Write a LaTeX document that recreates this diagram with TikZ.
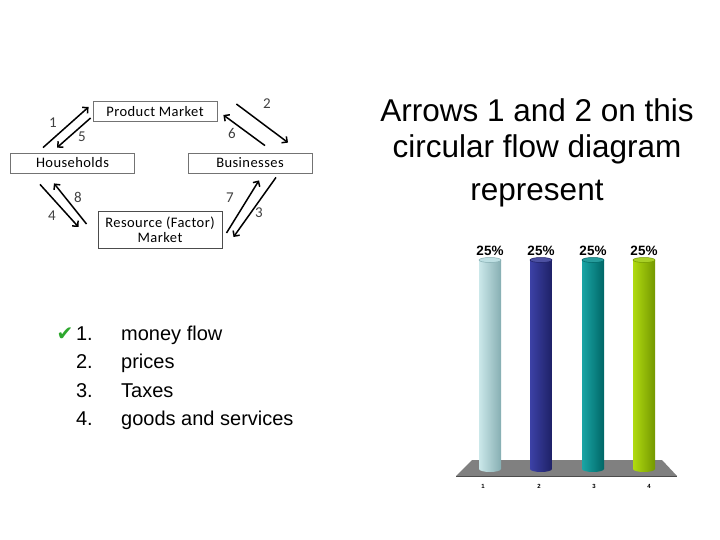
\documentclass[tikz,border=0pt]{standalone}
\usepackage{fontspec}
\setmainfont{Liberation Sans}
\newfontfamily\calfont[LetterSpace=3]{Carlito}
\newfontfamily\symfont{DejaVu Sans}
\usepackage{xcolor}
\usetikzlibrary{arrows.meta}
\definecolor{barAl}{HTML}{CBE8EA}\definecolor{barAm}{HTML}{B2D9DD}\definecolor{barAr}{HTML}{86AEB2}
\definecolor{barBl}{HTML}{3C41A6}\definecolor{barBm}{HTML}{2E3292}\definecolor{barBr}{HTML}{1E2166}
\definecolor{barCl}{HTML}{1AA5A5}\definecolor{barCm}{HTML}{008B8B}\definecolor{barCr}{HTML}{006666}
\definecolor{barDl}{HTML}{B0DA10}\definecolor{barDm}{HTML}{99C800}\definecolor{barDr}{HTML}{749800}
\definecolor{tick}{HTML}{2EA82E}

\begin{document}
\begin{tikzpicture}[x=1pt,y=-1pt,
  box/.style={draw=black!55,line width=0.8pt,font=\calfont\fontsize{14.5}{15}\selectfont,
    minimum width=124pt,minimum height=20pt,inner sep=1pt,align=center},
  flow/.style={line width=1.5pt,-{Straight Barb[length=4pt,width=8pt]}},
  num/.style={font=\calfont\fontsize{15}{15}\selectfont,text=black!75},
  title/.style={font=\fontsize{31.5}{31.5}\selectfont},
  item/.style={font=\fontsize{20}{20}\selectfont},
  pct/.style={font=\bfseries\fontsize{13.5}{14}\selectfont},
  axis/.style={font=\bfseries\fontsize{6}{6}\selectfont}]
\useasboundingbox (0,0) rectangle (720,540);

% circular flow
\node[box] (pm) at (155,111.5) {Product Market};
\node[box] (hh) at (72.5,163) {Households};
\node[box] (bus) at (250,163) {Businesses};
\node[box,minimum height=36pt,line width=1pt,draw=black!70] (rfm) at (160,230) {Resource (Factor)\\Market};
\draw[flow] ([xshift=-29.5pt,yshift=5pt]hh.north) -- ([xshift=-4pt,yshift=4.5pt]pm.west);
\draw[flow] ([xshift=-2pt,yshift=-6.5pt]pm.west) -- ([xshift=-15.5pt,yshift=5pt]hh.north);
\draw[flow] ([xshift=19pt,yshift=7.5pt]pm.east) -- ([xshift=38pt,yshift=10pt]bus.north);
\draw[flow] ([xshift=15pt,yshift=7pt]bus.north) -- ([xshift=6pt,yshift=-3.5pt]pm.east);
\draw[flow] ([xshift=-32.5pt,yshift=-11pt]hh.south) -- ([xshift=-19pt,yshift=3pt]rfm.west);
\draw[flow] ([xshift=-11pt,yshift=6pt]rfm.west) -- ([xshift=-18.5pt,yshift=-10pt]hh.south);
\draw[flow] ([xshift=4pt,yshift=-3pt]rfm.east) -- ([xshift=9pt,yshift=-7pt]bus.south);
\draw[flow] ([xshift=26pt,yshift=-4pt]bus.south) -- ([xshift=11pt,yshift=-7pt]rfm.east);
\foreach \n/\x/\y in {1/53/123,5/82/137,2/267/104,6/232/133,4/52/216,8/78/197,7/230/198,3/259/213}
  \node[num] (l\n) at (\x,\y) {\n};

% question
\node[title,anchor=base] (q1) at (537,122) {Arrows 1 and 2 on this};
\node[title,anchor=base] (q2) at (537,158) {circular flow diagram};
\node[title,anchor=base] (q3) at (537,201) {represent};

% answers
\node[font=\symfont\fontsize{20}{20}\selectfont,text=tick,anchor=base] (ok) at (65,340) {✔};
\foreach \i/\t/\y in {1/money flow/340,2/prices/368.5,3/Taxes/397,4/goods and services/425.5}{
  \node[item,anchor=base east,inner sep=0pt] (n\i) at (93,\y) {\i.};
  \node[item,anchor=base west,inner sep=0pt] (a\i) at (121,\y) {\t};
}

% bar chart
\fill[black!50] (472,460) -- (662,460) -- (677,476) -- (456,476) -- cycle;
\draw[black!70,line width=0.6pt] (456,476) -- (677,476);
\foreach \x/\c/\t [count=\i] in {479/A/483,530/B/539,582/C/594,633/D/649}{
  \shade[left color=bar\c l,middle color=bar\c m,right color=bar\c r]
    (\x,260) -- (\x,469) arc[start angle=180,end angle=0,x radius=11,y radius=3] -- (\x+22,260) -- cycle;
  \fill[bar\c m!85!white] (\x+11,260) ellipse[x radius=11,y radius=2.5];
  \draw[bar\c r,line width=0.5pt] (\x+11,260) ellipse[x radius=11,y radius=2.5];
  \node[pct] (p\i) at (\x+11,251) {25\%};
  \node[axis] (t\i) at (\t,486) {\i};
}
\end{tikzpicture}
\end{document}
